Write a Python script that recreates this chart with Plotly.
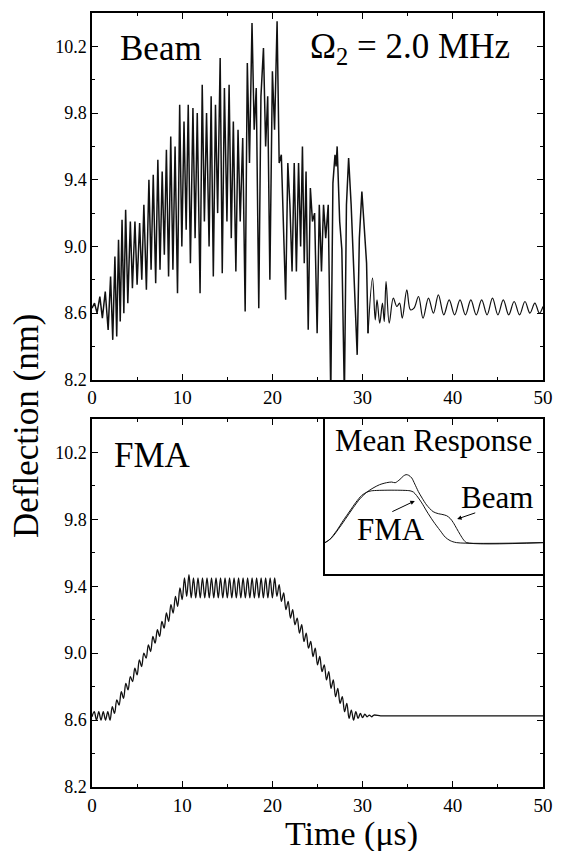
import plotly.graph_objects as go

# ---------------- data ----------------
beam_t = [0.0, 0.28, 0.56, 0.87, 1.15, 1.47, 1.79, 2.06, 2.30, 2.54, 2.74, 2.94, 3.13, 3.33, 3.53, 3.73,
          3.97, 4.25, 4.48, 4.76, 5.00, 5.28, 5.52, 5.75, 6.03, 6.31, 6.55, 6.79, 7.06, 7.30, 7.54, 7.78,
          8.02, 8.25, 8.49, 8.73, 8.97, 9.21, 9.48, 9.72, 9.96, 10.20, 10.44, 10.67, 10.91, 11.19, 11.43,
          11.67, 11.98, 12.22, 12.46, 12.70, 12.98, 13.21, 13.45, 13.69, 13.93, 14.21, 14.44, 14.68, 14.96,
          15.20, 15.44, 15.67, 15.95, 16.19, 16.43, 16.71, 16.98, 17.22, 17.46, 17.74, 17.98, 18.21, 18.49,
          18.73, 19.01, 19.25, 19.48, 19.72, 20.00, 20.24, 20.52, 20.75, 20.99, 21.23, 21.47, 21.71, 21.94,
          22.18, 22.42, 22.66, 22.90, 23.13, 23.33, 23.53, 23.73, 23.97, 24.21, 24.44, 24.68, 24.96, 25.20,
          25.44, 25.67, 25.91, 26.19, 26.47, 26.71, 26.94, 27.06, 27.18, 27.46, 27.70, 27.98, 28.21, 28.45,
          28.73, 29.05, 29.40, 29.64, 29.92, 30.20, 30.44, 30.60]
beam_y = [8.63, 8.66, 8.60, 8.70, 8.57, 8.73, 8.50, 8.82, 8.44, 8.94, 8.46, 9.04, 8.55, 9.16, 8.60, 9.22,
          8.66, 9.15, 8.75, 9.15, 8.77, 9.14, 8.80, 9.25, 8.74, 9.40, 8.86, 9.43, 8.78, 9.52, 8.86, 9.45,
          8.95, 9.58, 8.82, 9.66, 8.86, 9.60, 8.72, 9.85, 9.00, 9.75, 9.10, 9.85, 8.90, 9.83, 9.05,
          9.80, 8.72, 9.97, 9.15, 9.80, 9.00, 9.90, 8.82, 9.85, 9.20, 10.13, 8.84, 9.95, 9.15,
          9.97, 9.05, 9.75, 8.85, 9.70, 9.15, 9.65, 8.61, 10.10, 9.50, 10.34, 9.70, 9.95, 8.63,
          9.90, 10.19, 9.60, 9.90, 8.80, 10.05, 9.70, 10.35, 9.50, 9.55, 9.10, 8.68, 9.50, 9.25,
          8.85, 9.50, 8.85, 9.50, 9.00, 9.60, 8.90, 9.45, 8.50, 9.35, 9.15, 9.20, 8.48, 9.25,
          8.85, 9.25, 9.05, 9.25, 8.10, 9.38, 9.55, 9.48, 9.60, 9.15, 8.98, 8.10, 9.25, 9.53,
          9.25, 8.80, 8.35, 9.05, 9.33, 9.10, 8.90, 8.48]

beam_tail_t = [30.60, 31.10, 31.40, 31.60, 31.90, 32.20, 32.40, 32.60, 32.95, 33.40, 33.80, 34.10, 34.40,
               34.90, 35.30, 35.70, 36.20, 36.70, 37.30, 37.85, 38.40, 39.00, 39.60, 40.20, 40.80, 41.40,
               42.00, 42.60, 43.20, 43.80, 44.40, 45.00, 45.60, 46.20, 46.80, 47.40, 48.00, 48.55, 49.10,
               49.60, 50.00]
beam_tail_y = [8.48, 8.81, 8.56, 8.68, 8.54, 8.66, 8.55, 8.79, 8.54, 8.69, 8.64, 8.66, 8.57,
               8.74, 8.62, 8.63, 8.70, 8.57, 8.69, 8.60, 8.71, 8.59, 8.68, 8.59, 8.68, 8.59,
               8.68, 8.59, 8.68, 8.59, 8.69, 8.59, 8.68, 8.59, 8.67, 8.59, 8.67, 8.60, 8.66,
               8.60, 8.64]

fma_t = [0.0, 0.25, 0.5, 0.75, 1.0, 1.25, 1.5, 1.75, 2.0, 2.25, 2.5, 2.75, 3.0, 3.25, 3.5, 3.75,
         4.0, 4.25, 4.5, 4.75, 5.0, 5.25, 5.5, 5.75, 6.0, 6.25, 6.5, 6.75, 7.0, 7.25, 7.5, 7.75,
         8.0, 8.25, 8.5, 8.75, 9.0, 9.25, 9.5, 9.75, 10.0, 10.25, 10.5, 10.75, 11.0, 11.25, 11.5, 11.75,
         12.0, 12.25, 12.5, 12.75, 13.0, 13.25, 13.5, 13.75, 14.0, 14.25, 14.5, 14.75, 15.0, 15.25, 15.5,
         15.75, 16.0, 16.25, 16.5, 16.75, 17.0, 17.25, 17.5, 17.75, 18.0, 18.25, 18.5, 18.75, 19.0, 19.25,
         19.5, 19.75, 20.0, 20.25, 20.5, 20.75, 21.0, 21.25, 21.5, 21.75, 22.0, 22.25, 22.5, 22.75, 23.0,
         23.25, 23.5, 23.75, 24.0, 24.25, 24.5, 24.75, 25.0, 25.25, 25.5, 25.75, 26.0, 26.25, 26.5, 26.75,
         27.0, 27.25, 27.5, 27.75, 28.0, 28.25, 28.5, 28.75, 29.0, 29.25, 29.5, 29.75, 30.0, 30.25, 30.5,
         30.75, 31.0, 31.25, 32.0, 33.0, 50.0]
fma_y = [8.62, 8.65, 8.60, 8.65, 8.60, 8.65, 8.60, 8.65, 8.60, 8.68, 8.64, 8.72, 8.69, 8.77, 8.73, 8.82,
         8.78, 8.86, 8.83, 8.91, 8.87, 8.96, 8.92, 9.00, 8.97, 9.05, 9.01, 9.10, 9.06, 9.14, 9.10, 9.19,
         9.15, 9.24, 9.19, 9.29, 9.24, 9.34, 9.28, 9.39, 9.32, 9.45, 9.34, 9.47, 9.33, 9.45, 9.33, 9.45,
         9.33, 9.45, 9.33, 9.45, 9.33, 9.45, 9.33, 9.45, 9.33, 9.45, 9.33, 9.45, 9.33, 9.45, 9.33,
         9.45, 9.33, 9.45, 9.33, 9.45, 9.33, 9.45, 9.33, 9.45, 9.33, 9.45, 9.33, 9.45, 9.33, 9.45,
         9.33, 9.45, 9.33, 9.45, 9.34, 9.41, 9.31, 9.36, 9.26, 9.31, 9.21, 9.26, 9.17, 9.21, 9.12,
         9.17, 9.07, 9.12, 9.03, 9.07, 8.98, 9.03, 8.93, 8.98, 8.89, 8.93, 8.84, 8.89, 8.79, 8.84,
         8.74, 8.79, 8.70, 8.74, 8.65, 8.70, 8.61, 8.66, 8.60, 8.65, 8.61, 8.64, 8.615, 8.635, 8.62,
         8.63, 8.62, 8.63, 8.625, 8.625, 8.625]

mean_beam_t = [0.0, 1.5, 3.4, 5.0, 6.5, 8.0, 9.6, 11.0, 12.5, 14.1, 15.3, 16.1, 17.2, 18.0, 18.6, 19.2,
               19.9, 20.6, 21.4, 22.3, 23.3, 24.8, 26.0, 26.8, 27.9, 28.7, 29.4, 30.2, 31.0, 31.8, 32.5,
               50.0]
mean_beam_y = [8.62, 8.69, 8.85, 9.00, 9.14, 9.27, 9.37, 9.43, 9.48, 9.51, 9.52, 9.51, 9.56, 9.61, 9.63,
               9.62, 9.58, 9.49, 9.38, 9.28, 9.18, 9.08, 9.05, 9.04, 9.02, 8.98, 8.92, 8.83, 8.74, 8.66,
               8.62, 8.62]
mean_fma_t = [0.0, 1.0, 2.7, 4.2, 5.7, 7.1, 8.4, 9.6, 10.7, 19.5, 20.3, 21.0, 22.2, 23.3, 24.8, 26.4,
              27.6, 28.7, 30.2, 50.0]
mean_fma_y = [8.62, 8.66, 8.80, 8.95, 9.09, 9.22, 9.32, 9.37, 9.39, 9.39, 9.37, 9.32, 9.21, 9.09, 8.94,
              8.80, 8.70, 8.65, 8.62, 8.62]

x_ticks = [0, 10, 20, 30, 40, 50]
x_tick_labels = ["0", "10", "20", "30", "40", "50"]
x_minor = [5, 15, 25, 35, 45]
y_ticks = [8.2, 8.6, 9.0, 9.4, 9.8, 10.2]
y_tick_labels = ["8.2", "8.6", "9.0", "9.4", "9.8", "10.2"]
y_minor = [8.4, 8.8, 9.2, 9.6, 10.0]

# ---------------- figure ----------------
FONT = "Liberation Serif"
line = dict(color="#111111", width=1)

fig = go.Figure()
fig.add_trace(go.Scatter(x=beam_t, y=beam_y, mode="lines", line=dict(color="#111111", width=1.5),
                         xaxis="x", yaxis="y", showlegend=False))
fig.add_trace(go.Scatter(x=beam_tail_t, y=beam_tail_y, mode="lines",
                         line=dict(color="#111111", width=1.2, shape="spline"),
                         xaxis="x", yaxis="y", showlegend=False))
fig.add_trace(go.Scatter(x=fma_t, y=fma_y, mode="lines", line=dict(color="#111111", width=1.3, shape="spline"),
                         xaxis="x2", yaxis="y2", showlegend=False))
fig.add_trace(go.Scatter(x=mean_beam_t, y=mean_beam_y, mode="lines",
                         line=dict(line, shape="spline", smoothing=0.8),
                         xaxis="x3", yaxis="y3", showlegend=False))
fig.add_trace(go.Scatter(x=mean_fma_t, y=mean_fma_y, mode="lines",
                         line=dict(line, shape="spline", smoothing=0.8),
                         xaxis="x3", yaxis="y3", showlegend=False))

xcommon = dict(range=[0, 50], tickvals=x_ticks, ticktext=x_tick_labels, ticks="inside", ticklen=6,
               tickcolor="black", tickwidth=1, mirror="allticks", showline=True, linecolor="black",
               linewidth=1.5, showgrid=False, zeroline=False,
               tickfont=dict(family=FONT, size=19, color="black"),
               minor=dict(tickvals=x_minor, ticks="inside", ticklen=3, tickcolor="black", showgrid=False))
ycommon = dict(range=[8.2, 10.4], tickvals=y_ticks, ticktext=y_tick_labels, ticks="inside", ticklen=6,
               tickcolor="black", tickwidth=1, mirror="allticks", showline=True, linecolor="black",
               linewidth=1.5, showgrid=False, zeroline=False,
               tickfont=dict(family=FONT, size=18, color="black"),
               minor=dict(tickvals=y_minor, ticks="inside", ticklen=3, tickcolor="black", showgrid=False))

# page body has an 8px margin: the figure is shifted so the plot areas land where the reference has them
fig.update_layout(
    width=553, height=843,
    margin=dict(l=84, r=18, t=3, b=64),
    paper_bgcolor="white", plot_bgcolor="rgba(0,0,0,0)",
    font=dict(family=FONT, color="black"),
    xaxis=dict(xcommon, domain=[0, 1], anchor="y"),
    yaxis=dict(ycommon, domain=[0.526, 1], anchor="x"),
    xaxis2=dict(xcommon, domain=[0, 1], anchor="y2"),
    yaxis2=dict(ycommon, domain=[0, 0.4755], anchor="x2"),
    xaxis3=dict(domain=[0.5166, 1], anchor="y3", range=[0, 50], showline=True, mirror=True,
                linecolor="black", linewidth=1.5, showticklabels=False, ticks="", showgrid=False,
                zeroline=False),
    yaxis3=dict(domain=[0.2758, 0.4755], anchor="x3", range=[8.161, 10.457], showline=True, mirror=True,
                linecolor="black", linewidth=1.5, showticklabels=False, ticks="", showgrid=False,
                zeroline=False),
)

big = dict(family=FONT, size=35, color="black")
mid = dict(family=FONT, size=31, color="black")
ann = [
    dict(text="Beam", x=0.058, y=0.9536, xref="paper", yref="paper", xanchor="left", yanchor="middle",
         showarrow=False, font=big),
    dict(text="Ω<sub>2</sub> = 2.0 MHz", x=0.931, y=0.9536, xref="paper", yref="paper", xanchor="right",
         yanchor="middle", showarrow=False, font=big),
    dict(text="FMA", x=0.044, y=0.428, xref="paper", yref="paper", xanchor="left", yanchor="middle",
         showarrow=False, font=big),
    dict(text="Mean Response", x=0.7583, y=0.448, xref="paper", yref="paper", xanchor="center",
         yanchor="middle", showarrow=False, font=mid),
    dict(text="FMA", x=15.2, y=8.82, xref="x3", yref="y3", xanchor="center", yanchor="middle",
         showarrow=False, font=mid),
    dict(text="Beam", x=39.4, y=9.29, xref="x3", yref="y3", xanchor="center", yanchor="middle",
         showarrow=False, font=mid),
    dict(text="", x=20.6, y=9.24, ax=15.1, ay=9.07, xref="x3", yref="y3", axref="x3", ayref="y3",
         showarrow=True, arrowhead=2, arrowsize=0.9, arrowwidth=1, arrowcolor="black"),
    dict(text="", x=30.3, y=8.97, ax=34.8, ay=9.07, xref="x3", yref="y3", axref="x3", ayref="y3",
         showarrow=True, arrowhead=2, arrowsize=0.9, arrowwidth=1, arrowcolor="black"),
    dict(text="Deflection (nm)", x=-0.144, y=0.4665, xref="paper", yref="paper", xanchor="center",
         yanchor="middle", textangle=-90, showarrow=False, font=big),
    dict(text="Time (μs)", x=0.575, y=-0.0876, xref="paper", yref="paper", xanchor="center",
         yanchor="bottom", showarrow=False, font=dict(family=FONT, size=34, color="black")),
]
fig.update_layout(annotations=ann)

fig.write_html("out.html")
